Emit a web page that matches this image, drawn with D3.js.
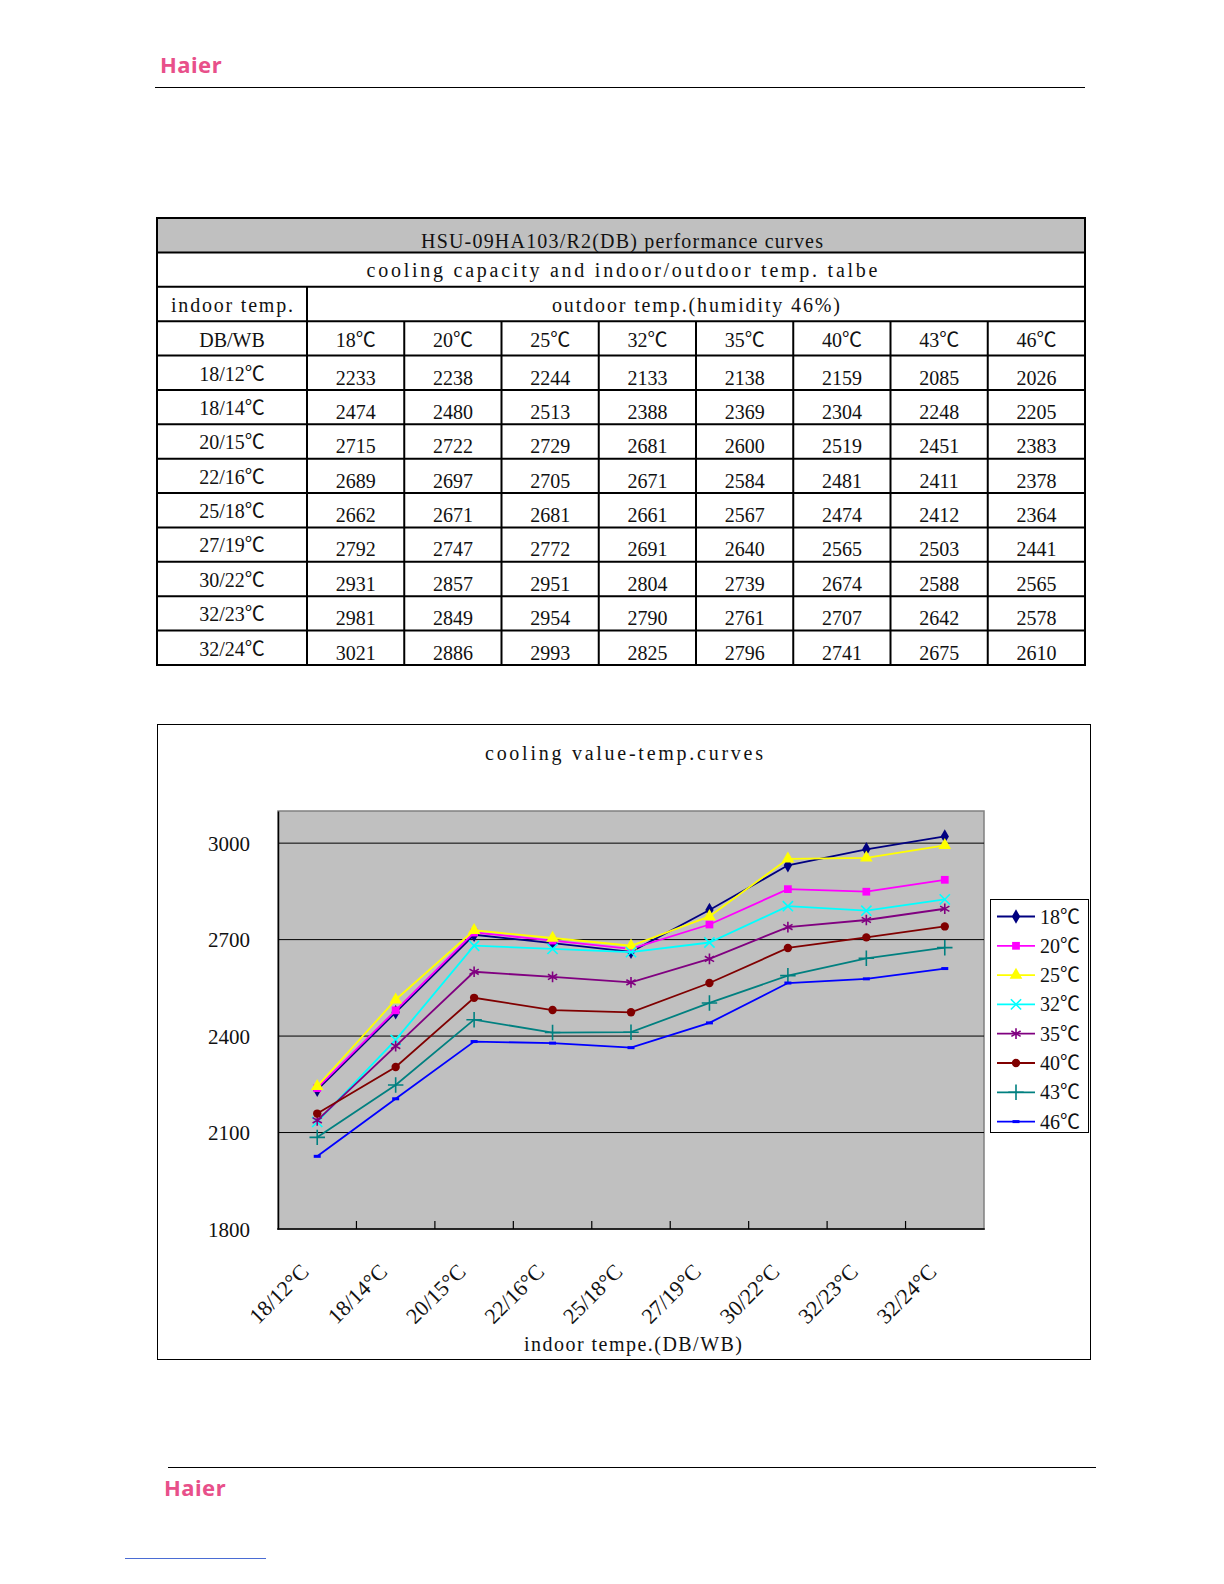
<!DOCTYPE html>
<html>
<head>
<meta charset="utf-8">
<script src="https://cdn.jsdelivr.net/npm/d3@7"></script>
<style>
  html, body { margin: 0; padding: 0; width: 100%; height: 100%; background: #fff; overflow: hidden; }
  svg { display: block; width: 100vw; height: 100vh; }
</style>
</head>
<body>
<svg id="page" viewBox="0 0 1224 1584" preserveAspectRatio="none"></svg>
<script>
// indoor temps (DB/WB) are the table rows and the chart's x categories
const INDOOR = ["18/12℃", "18/14℃", "20/15℃", "22/16℃", "25/18℃", "27/19℃", "30/22℃", "32/23℃", "32/24℃"];
const INDOOR_AXIS = ["18/12°C", "18/14°C", "20/15°C", "22/16°C", "25/18°C", "27/19°C", "30/22°C", "32/23°C", "32/24°C"];
// outdoor temps are the table columns and the chart series
const OUTDOOR = ["18℃", "20℃", "25℃", "32℃", "35℃", "40℃", "43℃", "46℃"];
const CAP_18 = [2233, 2474, 2715, 2689, 2662, 2792, 2931, 2981, 3021];
const CAP_20 = [2238, 2480, 2722, 2697, 2671, 2747, 2857, 2849, 2886];
const CAP_25 = [2244, 2513, 2729, 2705, 2681, 2772, 2951, 2954, 2993];
const CAP_32 = [2133, 2388, 2681, 2671, 2661, 2691, 2804, 2790, 2825];
const CAP_35 = [2138, 2369, 2600, 2584, 2567, 2640, 2739, 2761, 2796];
const CAP_40 = [2159, 2304, 2519, 2481, 2474, 2565, 2674, 2707, 2741];
const CAP_43 = [2085, 2248, 2451, 2411, 2412, 2503, 2588, 2642, 2675];
const CAP_46 = [2026, 2205, 2383, 2378, 2364, 2441, 2565, 2578, 2610];
const Y_TICKS = [1800, 2100, 2400, 2700, 3000];

const SERIES_VALUES = [CAP_18, CAP_20, CAP_25, CAP_32, CAP_35, CAP_40, CAP_43, CAP_46];

const dashSymbol = { draw(ctx) { ctx.rect(-3.5, -1.5, 7, 3); } };
const SERIES_STYLE = [
  { color: "#000080", symbol: d3.symbolDiamond, size: 60, stroke: false },
  { color: "#ff00ff", symbol: d3.symbolSquare, size: 60, stroke: false },
  { color: "#ffff00", symbol: d3.symbolTriangle, size: 70, stroke: false },
  { color: "#00ffff", symbol: d3.symbolTimes, size: 70, stroke: true },
  { color: "#800080", symbol: d3.symbolAsterisk, size: 80, stroke: true },
  { color: "#800000", symbol: d3.symbolCircle, size: 55, stroke: false },
  { color: "#008080", symbol: d3.symbolPlus, size: 80, stroke: true },
  { color: "#0000ff", symbol: dashSymbol, size: 1, stroke: false }
];

const SERIF = "'Liberation Serif', 'Times New Roman', 'Noto Sans CJK SC', serif";
const LOGO = "'Noto Sans', 'DejaVu Sans', sans-serif";

const svg = d3.select("#page");

drawPageFrame();
drawTable();
drawChart();

// wide-set serif text, like the half-width CJK font of the original sheet
function spacedText(parent, x, y, str, size, span) {
  return parent.append("text")
    .attr("x", x).attr("y", y).attr("text-anchor", "middle")
    .attr("font-family", SERIF).attr("font-size", size).attr("fill", "#111")
    .attr("textLength", span).attr("lengthAdjust", "spacing")
    .text(str);
}

function drawPageFrame() {
  svg.append("text")
    .attr("x", 160).attr("y", 73)
    .attr("font-family", LOGO).attr("font-weight", "bold").attr("font-size", 22)
    .attr("fill", "#e8508a").attr("letter-spacing", 0.5)
    .text("Haier");
  svg.append("line").attr("x1", 155).attr("x2", 1085).attr("y1", 87.5).attr("y2", 87.5)
    .attr("stroke", "#000").attr("stroke-width", 1.2);

  svg.append("line").attr("x1", 168).attr("x2", 1096).attr("y1", 1467.5).attr("y2", 1467.5)
    .attr("stroke", "#000").attr("stroke-width", 1.2);
  svg.append("text")
    .attr("x", 164).attr("y", 1496)
    .attr("font-family", LOGO).attr("font-weight", "bold").attr("font-size", 22)
    .attr("fill", "#e8508a").attr("letter-spacing", 0.5)
    .text("Haier");
  svg.append("line").attr("x1", 125).attr("x2", 266).attr("y1", 1558.5).attr("y2", 1558.5)
    .attr("stroke", "#4a6cd4").attr("stroke-width", 1);
}

function drawTable() {
  const left = 157;
  const right = 1085;
  const top = 218;
  const rowH = 34.38;
  const firstColW = 150;
  const colX = d3.scaleBand().domain(OUTDOOR).range([left + firstColW, right]);
  const rowY = (i) => top + i * rowH;
  const nRows = 4 + INDOOR.length;
  const bottom = rowY(nRows);
  const g = svg.append("g").attr("class", "perf-table");

  g.append("rect").attr("x", left).attr("y", top).attr("width", right - left).attr("height", rowH)
    .attr("fill", "#c0c0c0");

  for (let i = 0; i <= nRows; i++) {
    g.append("line").attr("x1", left - 1).attr("x2", right + 1)
      .attr("y1", rowY(i)).attr("y2", rowY(i))
      .attr("stroke", "#000").attr("stroke-width", 2);
  }
  g.append("line").attr("x1", left).attr("x2", left).attr("y1", top).attr("y2", bottom)
    .attr("stroke", "#000").attr("stroke-width", 2);
  g.append("line").attr("x1", right).attr("x2", right).attr("y1", top).attr("y2", bottom)
    .attr("stroke", "#000").attr("stroke-width", 2);
  g.append("line").attr("x1", left + firstColW).attr("x2", left + firstColW).attr("y1", rowY(2)).attr("y2", bottom)
    .attr("stroke", "#000").attr("stroke-width", 2);
  OUTDOOR.slice(1).forEach((o) => {
    g.append("line").attr("x1", colX(o)).attr("x2", colX(o)).attr("y1", rowY(3)).attr("y2", bottom)
      .attr("stroke", "#000").attr("stroke-width", 2);
  });

  const text = (x, y, str, size) => g.append("text")
    .attr("x", x).attr("y", y).attr("text-anchor", "middle")
    .attr("font-family", SERIF).attr("font-size", size).attr("fill", "#111")
    .text(str);

  spacedText(g, 622, rowY(0) + 30, "HSU-09HA103/R2(DB) performance curves", 20, 402);
  spacedText(g, 622, rowY(1) + 25, "cooling capacity and indoor/outdoor temp. talbe", 20, 511);
  spacedText(g, 232, rowY(2) + 25, "indoor temp.", 20, 122);
  spacedText(g, 696, rowY(2) + 25, "outdoor temp.(humidity 46%)", 20, 288);
  text(left + firstColW / 2, rowY(3) + 26, "DB/WB", 20);
  OUTDOOR.forEach((o) => text(colX(o) + colX.bandwidth() / 2, rowY(3) + 26, o, 20));

  INDOOR.forEach((label, r) => {
    text(left + firstColW / 2, rowY(4 + r) + 25, label, 20);
    OUTDOOR.forEach((o, c) => {
      text(colX(o) + colX.bandwidth() / 2, rowY(4 + r) + 29, SERIES_VALUES[c][r], 20);
    });
  });
}

function drawChart() {
  const box = { x: 157, y: 724, w: 933, h: 635 };
  const plot = { left: 278, right: 984, top: 811, bottom: 1229 };
  const g = svg.append("g").attr("class", "chart");

  g.append("rect").attr("x", box.x + 0.5).attr("y", box.y + 0.5).attr("width", box.w).attr("height", box.h)
    .attr("fill", "#fff").attr("stroke", "#000").attr("stroke-width", 1);

  spacedText(g, 624, 760, "cooling value-temp.curves", 20, 278);

  const x = d3.scaleBand().domain(INDOOR).range([plot.left, plot.right]);
  const y = d3.scaleLinear().domain([1800, 3100]).range([plot.bottom, plot.top]);
  const cx = (label) => x(label) + x.bandwidth() / 2;

  g.append("rect").attr("x", plot.left).attr("y", plot.top)
    .attr("width", plot.right - plot.left).attr("height", plot.bottom - plot.top)
    .attr("fill", "#c0c0c0").attr("stroke", "#808080").attr("stroke-width", 1.5);

  g.append("g").selectAll("line").data(Y_TICKS.slice(1)).join("line")
    .attr("x1", plot.left).attr("x2", plot.right)
    .attr("y1", (d) => y(d)).attr("y2", (d) => y(d))
    .attr("stroke", "#000").attr("stroke-width", 1);

  const yAxis = g.append("g").attr("transform", `translate(${plot.left},0)`)
    .call(d3.axisLeft(y).tickValues(Y_TICKS).tickSize(0).tickPadding(28).tickFormat(d3.format("d")));
  yAxis.select(".domain").attr("stroke", "#000").attr("stroke-width", 1.5);
  yAxis.selectAll("text").attr("font-family", SERIF).attr("font-size", 21).attr("fill", "#111")
    .attr("dy", "0.35em");

  const xAxis = g.append("g");
  xAxis.append("line").attr("x1", plot.left - 0.75).attr("x2", plot.right + 0.75)
    .attr("y1", plot.bottom).attr("y2", plot.bottom)
    .attr("stroke", "#000").attr("stroke-width", 1.5);
  xAxis.selectAll(".xtick").data(INDOOR.slice(1)).join("line")
    .attr("class", "xtick")
    .attr("x1", (d) => x(d)).attr("x2", (d) => x(d))
    .attr("y1", plot.bottom).attr("y2", plot.bottom - 8)
    .attr("stroke", "#000").attr("stroke-width", 1.2);
  xAxis.selectAll(".xlabel").data(INDOOR).join("text")
    .attr("class", "xlabel")
    .attr("transform", (d) => `translate(${cx(d) - 7},${plot.bottom + 44}) rotate(-45)`)
    .attr("text-anchor", "end")
    .attr("font-family", SERIF).attr("font-size", 22).attr("fill", "#111")
    .text((d, i) => INDOOR_AXIS[i]);

  spacedText(g, 633, 1351, "indoor tempe.(DB/WB)", 20, 218);

  const line = d3.line().x((d, i) => cx(INDOOR[i])).y((d) => y(d));
  const seriesLayer = g.append("g");
  SERIES_VALUES.forEach((values, s) => {
    const st = SERIES_STYLE[s];
    const sg = seriesLayer.append("g");
    sg.append("path").attr("d", line(values)).attr("fill", "none")
      .attr("stroke", st.color).attr("stroke-width", 1.8);
    sg.selectAll("path.mark").data(values).join("path")
      .attr("class", "mark")
      .attr("transform", (d, i) => `translate(${cx(INDOOR[i])},${y(d)})`)
      .attr("d", d3.symbol(st.symbol, st.size))
      .attr("fill", st.stroke ? "none" : st.color)
      .attr("stroke", st.stroke ? st.color : "none")
      .attr("stroke-width", 1.6);
  });

  const lg = g.append("g").attr("class", "legend");
  lg.append("rect").attr("x", 990.5).attr("y", 899.5).attr("width", 98).attr("height", 233)
    .attr("fill", "#fff").attr("stroke", "#000").attr("stroke-width", 1);
  OUTDOOR.forEach((o, s) => {
    const st = SERIES_STYLE[s];
    const ly = 916.5 + s * 29.3;
    lg.append("line").attr("x1", 997).attr("x2", 1035).attr("y1", ly).attr("y2", ly)
      .attr("stroke", st.color).attr("stroke-width", 1.8);
    lg.append("path").attr("transform", `translate(1016,${ly})`)
      .attr("d", d3.symbol(st.symbol, st.size))
      .attr("fill", st.stroke ? "none" : st.color)
      .attr("stroke", st.stroke ? st.color : "none")
      .attr("stroke-width", 1.6);
    lg.append("text").attr("x", 1040).attr("y", ly + 7)
      .attr("font-family", SERIF).attr("font-size", 20).attr("fill", "#111")
      .text(o);
  });
}
</script>
</body>
</html>
